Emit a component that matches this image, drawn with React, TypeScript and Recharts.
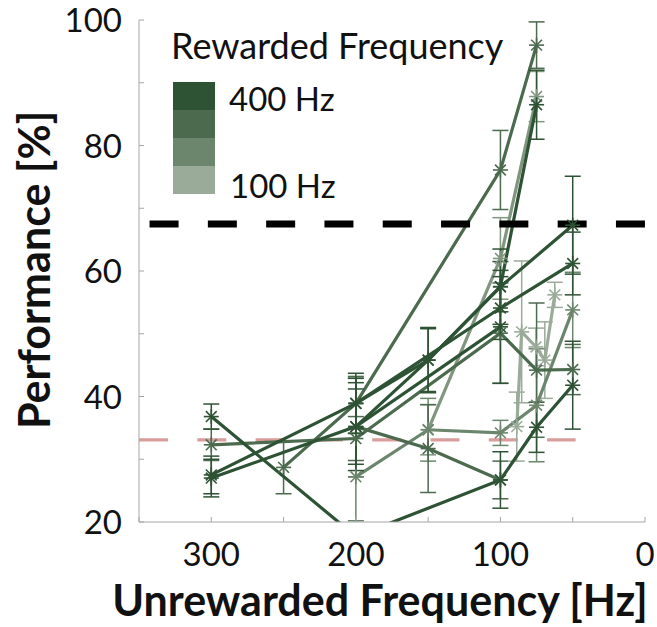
import { LineChart, Line, XAxis, YAxis, ErrorBar, ReferenceLine, Legend } from 'recharts';

const C400 = '#2e5234';
const C300 = '#4b6a4e';
const C200 = '#6c866d';
const C100 = '#9bab9a';
const CJ = '#80967f';
const legendShades = [C400, C300, C200, C100];

const FONT = 'Lato, "Open Sans", sans-serif';

const xTicks = [350, 300, 250, 200, 150, 100, 50, 0];
const xLabels = [300, 200, 100, 0];
const yTicks = [20, 30, 40, 50, 60, 70, 80, 90, 100];

const criterion = 67.5; // black dashed
const chance = 33.1; // pink dashed

// unrewarded frequency (Hz), performance (%), error (+/-)
const hzA = [300, 200, 100, 75, 50];
const perfA = [36.8, 17.7, 26.7, 35.1, 41.8];
const errA = [2, null, 4.5, 4, 7];

const hzB = [300, 200, 150, 100, 50];
const perfB = [27.5, 38.9, 45.8, 57.5, 67.3];
const errB = [3, 4.8, 5.2, 6, 7.8];

const hzC = [300, 200, 100];
const perfC = [27.0, 35.2, 51.1];
const errC = [3, 7, 9];

const hzD = [300, 200, 100, 75, 50];
const perfD = [32.3, 33.3, 50.1, 44.2, 44.3];
const errD = [2.5, 3.5, 8, 10.7, 4];

const hzE = [250, 200, 100, 75];
const perfE = [28.7, 38.9, 76.1, 96.0];
const errE = [4.2, 4, 6.3, 3.7];

const hzF = [200, 100, 50];
const perfF = [38.9, 54.1, 61.2];
const errF = [4, 5, 5];

const hzG = [200, 150, 100, 75];
const perfG = [35.2, 45.8, 57.5, 86.5];
const errG = [6, 5, 4, 5.5];

const hzH = [200, 150, 100];
const perfH = [35.2, 31.7, 26.7];
const errH = [8, 7, 3];

const hzI = [200, 150, 100, 75, 50];
const perfI = [27.2, 34.7, 34.2, 38.6, 53.8];
const errI = [7, 5, 2, 9, 6];

const hzJ = [150, 100, 75];
const perfJ = [34.7, 62.0, 87.8];
const errJ = [4, 6.5, 4];

const hzK = [88.7, 85.3, 75.4, 69.3, 62.4];
const perfK = [35.2, 50.3, 47.9, 45.8, 56.2];
const errK = [5.5, 11.3, 3, 6.1, 2];

const rows = (hz: number[], perf: number[], err: (number | null)[]) =>
  hz.map((x, i) => ({ x, y: perf[i], e: err[i] }));

const series = [
  { id: 'K', color: C100, data: rows(hzK, perfK, errK) },
  { id: 'J', color: CJ, data: rows(hzJ, perfJ, errJ) },
  { id: 'I', color: C200, data: rows(hzI, perfI, errI) },
  { id: 'E', color: C300, data: rows(hzE, perfE, errE) },
  { id: 'H', color: C300, data: rows(hzH, perfH, errH) },
  { id: 'D', color: C300, data: rows(hzD, perfD, errD) },
  { id: 'C', color: C400, data: rows(hzC, perfC, errC) },
  { id: 'F', color: C400, data: rows(hzF, perfF, errF) },
  { id: 'G', color: C400, data: rows(hzG, perfG, errG) },
  { id: 'B', color: C400, data: rows(hzB, perfB, errB) },
  { id: 'A', color: C400, data: rows(hzA, perfA, errA) },
];

const starDot = (color: string) => (p: any) => {
  const { cx, cy, index } = p;
  if (cx == null || cy == null) return <g key={index} />;
  const r = 7.5;
  const d = r * 0.72;
  return (
    <g key={index} stroke={color} strokeWidth={1.6}>
      <line x1={cx - r} y1={cy} x2={cx + r} y2={cy} />
      <line x1={cx} y1={cy - r} x2={cx} y2={cy + r} />
      <line x1={cx - d} y1={cy - d} x2={cx + d} y2={cy + d} />
      <line x1={cx - d} y1={cy + d} x2={cx + d} y2={cy - d} />
    </g>
  );
};

const XTick = ({ x, y, payload }: any) => (
  <g>
    <line x1={x} x2={x} y1={y} y2={y - 5} stroke="#a6a6a6" />
    {xLabels.includes(payload.value) && (
      <text x={x} y={y + 44} textAnchor="middle" fontFamily={FONT} fontSize={33} fill="#111">
        {payload.value}
      </text>
    )}
  </g>
);

const YTick = ({ x, y, payload }: any) => (
  <g>
    <line x1={x} x2={x + 5} y1={y} y2={y} stroke="#a6a6a6" />
    {payload.value % 20 === 0 && (
      <text x={x - 17} y={y + 12} textAnchor="end" fontFamily={FONT} fontSize={33} fill="#111">
        {payload.value}
      </text>
    )}
  </g>
);

const XTitle = ({ viewBox }: any) => (
  <text
    x={viewBox.x + viewBox.width / 2 - 12}
    y={viewBox.y + 94}
    textAnchor="middle"
    fontFamily={FONT}
    fontWeight={700}
    fontSize={43}
    fill="#111"
  >
    Unrewarded Frequency [Hz]
  </text>
);

const YTitle = ({ viewBox }: any) => {
  const cx = 33;
  const cy = viewBox.y + viewBox.height / 2 - 1;
  return (
    <text
      x={cx}
      y={cy}
      transform={`rotate(-90 ${cx} ${cy})`}
      textAnchor="middle"
      dominantBaseline="central"
      fontFamily={FONT}
      fontWeight={700}
      fontSize={43}
      fill="#111"
    >
      Performance [%]
    </text>
  );
};

const RewardLegend = () => (
  <div style={{ position: 'relative', width: 360, height: 200, fontFamily: FONT, color: '#111' }}>
    <div style={{ position: 'absolute', left: 0, top: -2, fontSize: 36, lineHeight: '42px', whiteSpace: 'nowrap' }}>
      Rewarded Frequency
    </div>
    <div style={{ position: 'absolute', left: 2, top: 56 }}>
      {legendShades.map(c => (
        <div key={c} style={{ width: 42, height: 28, background: c }} />
      ))}
    </div>
    <div style={{ position: 'absolute', left: 58, top: 52, fontSize: 33, lineHeight: '40px', whiteSpace: 'nowrap' }}>
      400 Hz
    </div>
    <div style={{ position: 'absolute', left: 59, top: 139, fontSize: 33, lineHeight: '40px', whiteSpace: 'nowrap' }}>
      100 Hz
    </div>
  </div>
);

export default function App() {
  return (
    <div style={{ position: 'absolute', left: 0, top: 0, width: 657, height: 627, background: '#fff' }}>
      <LineChart width={657} height={627} margin={{ top: 20, right: 12, left: 0, bottom: 0 }}>
        <XAxis
          dataKey="x"
          type="number"
          domain={[0, 350]}
          reversed
          ticks={xTicks}
          interval={0}
          allowDataOverflow
          height={105}
          tickSize={0}
          tickMargin={0}
          stroke="#a6a6a6"
          tick={<XTick />}
          label={<XTitle />}
        />
        <YAxis
          type="number"
          domain={[20, 100]}
          ticks={yTicks}
          interval={0}
          allowDataOverflow
          width={139}
          tickSize={0}
          tickMargin={0}
          stroke="#a6a6a6"
          tick={<YTick />}
          label={<YTitle />}
        />
        <Legend
          layout="horizontal"
          verticalAlign="middle"
          align="center"
          content={<RewardLegend />}
          wrapperStyle={{ left: 171, top: 26, width: 360, height: 200 }}
        />
        <ReferenceLine
          segment={[{ x: 350, y: chance }, { x: 48, y: chance }]}
          stroke="#d99d9b"
          strokeWidth={3.3}
          strokeDasharray="29 29.3"
        />
        {series.map(s => (
          <Line
            key={s.id}
            data={s.data}
            dataKey="y"
            type="linear"
            stroke={s.color}
            strokeWidth={3.2}
            dot={starDot(s.color)}
            activeDot={false}
            isAnimationActive={false}
          >
            <ErrorBar dataKey="e" width={8} strokeWidth={1.5} stroke={s.color} direction="y" isAnimationActive={false} />
          </Line>
        ))}
        <ReferenceLine
          segment={[{ x: 342.7, y: criterion }, { x: 0, y: criterion }]}
          stroke="#000"
          strokeWidth={7}
          strokeDasharray="29 29.3"
        />
      </LineChart>
    </div>
  );
}
